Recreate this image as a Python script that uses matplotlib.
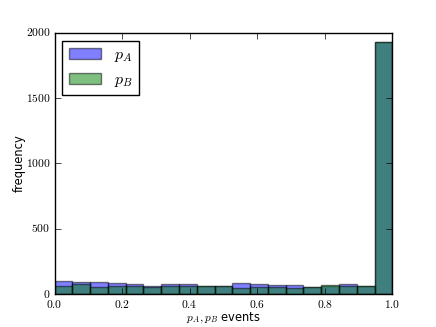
import numpy as np
import matplotlib
matplotlib.use('Agg')
import matplotlib.pyplot as plt
from matplotlib.ticker import FuncFormatter

plt.style.use('classic')
plt.rcParams['mathtext.fontset'] = 'cm'
plt.rcParams['font.size'] = 8.3
plt.rcParams['legend.fontsize'] = 11.5
plt.rcParams['xtick.major.pad'] = 2.5
plt.rcParams['ytick.major.pad'] = 3

n_bins = 19
bin_edges = np.linspace(0.0, 1.0, n_bins + 1)
counts_A = [103, 96, 93, 86, 79, 66, 78, 78, 60, 60, 87, 77, 72, 72, 56, 64, 82, 67, 1931]
counts_B = [60, 79, 57, 64, 60, 52, 64, 64, 63, 63, 51, 54, 54, 46, 59, 72, 64, 61, 1926]
label_A = r'$p_A$'
label_B = r'$p_B$'

fig = plt.figure(figsize=(4.36, 3.27), dpi=100)
ax = fig.add_subplot(111)
centers = 0.5 * (bin_edges[:-1] + bin_edges[1:])
ax.hist(centers, bins=bin_edges, weights=counts_A, color='b', alpha=0.5, label=label_A)
ax.hist(centers, bins=bin_edges, weights=counts_B, color='g', alpha=0.5, label=label_B)

ax.set_xlim(0, 1)
ax.set_ylim(0, 2000)
ax.set_xticks(np.arange(0, 1.01, 0.2))
ax.set_yticks(np.arange(0, 2001, 500))
ax.xaxis.set_major_formatter(FuncFormatter(lambda v, p: r'$%.1f$' % v))
ax.yaxis.set_major_formatter(FuncFormatter(lambda v, p: r'$%d$' % v))
ax.set_xlabel(r'$p_A, p_B$ events', labelpad=0)
ax.set_ylabel('frequency', labelpad=0)
ax.legend(loc='upper left')

fig.savefig('out.png', dpi=100)
